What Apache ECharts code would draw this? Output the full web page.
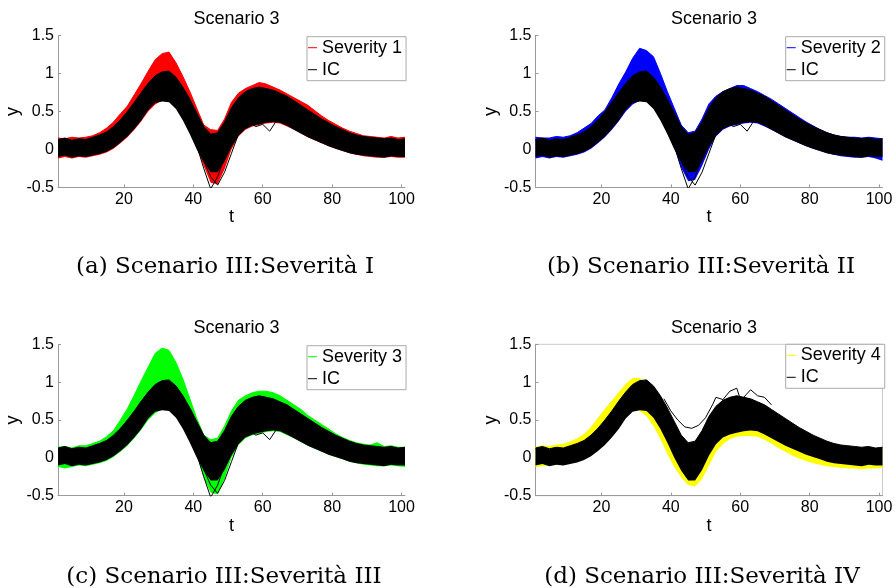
<!DOCTYPE html>
<html><head><meta charset="utf-8">
<script src="https://cdn.jsdelivr.net/npm/echarts@6.0.0/dist/echarts.min.js"></script>
<style>html,body{margin:0;padding:0;background:#fff}#c{width:896px;height:588px}</style>
</head><body><div id="c"></div>
<script>
// time grid (t) of the read-off envelopes
var tGrid = [1,3,5,7,9,11,13,15,17,19,21,23,25,27,29,31,33,35,37,39,41,43,45,47,49,51,53,55,57,59,61,63,65,67,69,71,73,75,77,79,81,83,85,87,89,91,93,95,97,99,101];
// IC bundle envelope (upper / lower)
var icHi = [0.13,0.15,0.12,0.14,0.13,0.16,0.19,0.23,0.30,0.39,0.50,0.62,0.75,0.87,0.97,1.02,1.03,0.95,0.82,0.66,0.48,0.30,0.20,0.22,0.36,0.55,0.68,0.76,0.80,0.82,0.80,0.78,0.74,0.70,0.64,0.58,0.52,0.46,0.40,0.35,0.30,0.26,0.22,0.19,0.17,0.16,0.15,0.14,0.15,0.13,0.14];
var icLo = [-0.10,-0.08,-0.11,-0.09,-0.10,-0.08,-0.06,-0.03,0.02,0.09,0.17,0.27,0.38,0.52,0.61,0.63,0.62,0.53,0.38,0.20,0.00,-0.17,-0.30,-0.30,-0.16,0.03,0.18,0.27,0.31,0.33,0.35,0.36,0.35,0.31,0.26,0.21,0.16,0.12,0.08,0.04,0.01,-0.02,-0.05,-0.07,-0.08,-0.09,-0.10,-0.11,-0.09,-0.10,-0.10];
// Severity 1 (red)
var s1Hi = [0.15,0.14,0.16,0.15,0.16,0.18,0.22,0.28,0.36,0.47,0.57,0.72,0.87,1.03,1.18,1.26,1.28,1.14,0.96,0.76,0.54,0.32,0.26,0.25,0.40,0.62,0.74,0.80,0.84,0.88,0.86,0.82,0.78,0.73,0.68,0.63,0.58,0.51,0.44,0.38,0.33,0.28,0.24,0.21,0.18,0.17,0.16,0.15,0.17,0.15,0.16];
var s1Lo = [-0.12,-0.10,-0.12,-0.10,-0.11,-0.09,-0.07,-0.04,0.01,0.08,0.16,0.26,0.37,0.50,0.59,0.64,0.63,0.55,0.40,0.22,0.02,-0.22,-0.44,-0.46,-0.26,0.00,0.17,0.26,0.30,0.32,0.34,0.35,0.34,0.30,0.26,0.21,0.16,0.12,0.08,0.04,0.01,-0.02,-0.05,-0.07,-0.09,-0.10,-0.11,-0.11,-0.10,-0.11,-0.11];
// Severity 2 (blue)
var s2Hi = [0.16,0.15,0.15,0.17,0.16,0.18,0.22,0.28,0.34,0.44,0.52,0.68,0.86,1.02,1.20,1.33,1.30,1.22,1.00,0.76,0.54,0.32,0.22,0.24,0.40,0.60,0.70,0.76,0.80,0.84,0.84,0.80,0.76,0.71,0.66,0.60,0.54,0.48,0.42,0.36,0.31,0.26,0.22,0.19,0.17,0.16,0.16,0.15,0.16,0.15,0.14];
var s2Lo = [-0.12,-0.10,-0.12,-0.10,-0.11,-0.09,-0.07,-0.04,0.01,0.08,0.16,0.26,0.37,0.50,0.59,0.64,0.63,0.55,0.40,0.22,0.02,-0.24,-0.42,-0.40,-0.22,0.00,0.17,0.26,0.30,0.32,0.34,0.35,0.34,0.30,0.26,0.21,0.16,0.12,0.08,0.04,0.01,-0.02,-0.05,-0.07,-0.09,-0.10,-0.11,-0.11,-0.10,-0.12,-0.15];
// Severity 3 (green)
var s3Hi = [0.14,0.15,0.13,0.16,0.16,0.19,0.22,0.28,0.36,0.50,0.65,0.83,1.02,1.20,1.38,1.45,1.42,1.26,1.04,0.78,0.52,0.30,0.24,0.26,0.42,0.62,0.76,0.82,0.86,0.88,0.88,0.86,0.82,0.76,0.70,0.64,0.56,0.50,0.44,0.38,0.32,0.27,0.23,0.20,0.18,0.17,0.20,0.15,0.16,0.14,0.14];
var s3Lo = [-0.12,-0.14,-0.12,-0.10,-0.11,-0.09,-0.07,-0.04,0.01,0.08,0.16,0.26,0.37,0.50,0.59,0.64,0.63,0.55,0.40,0.22,0.02,-0.26,-0.46,-0.48,-0.28,0.00,0.17,0.26,0.30,0.32,0.34,0.35,0.34,0.30,0.26,0.21,0.16,0.12,0.08,0.04,0.01,-0.02,-0.05,-0.07,-0.09,-0.10,-0.11,-0.11,-0.10,-0.11,-0.12];
// Severity 4 (yellow)
var s4Hi = [0.14,0.16,0.15,0.17,0.18,0.21,0.25,0.31,0.40,0.52,0.64,0.75,0.86,0.97,1.05,1.05,0.98,0.86,0.70,0.52,0.34,0.20,0.12,0.12,0.26,0.44,0.58,0.66,0.72,0.75,0.74,0.70,0.65,0.60,0.54,0.48,0.42,0.36,0.30,0.25,0.20,0.16,0.14,0.12,0.11,0.11,0.10,0.10,0.11,0.10,0.10];
var s4Lo = [-0.12,-0.11,-0.10,-0.09,-0.08,-0.05,-0.02,0.02,0.08,0.15,0.24,0.34,0.45,0.55,0.62,0.62,0.55,0.42,0.25,0.05,-0.12,-0.26,-0.36,-0.38,-0.28,-0.10,0.08,0.18,0.25,0.28,0.29,0.29,0.28,0.24,0.19,0.13,0.08,0.03,-0.01,-0.04,-0.07,-0.09,-0.11,-0.12,-0.13,-0.14,-0.14,-0.15,-0.14,-0.14,-0.13];
// individual IC curves that stand out of the bundle
var icOutA_t = [39,41,43,45,47,49,51,53];
var icOutA_y = [0.30,0.05,-0.25,-0.52,-0.36,-0.10,0.15,0.30];
var icOutB_t = [41,43,45,47,49,51,53,55];
var icOutB_y = [0.10,-0.15,-0.36,-0.47,-0.30,-0.05,0.20,0.32];
var icOutC_t = [50,52,54,56,58,60,62,64,66,68];
var icOutC_y = [0.05,0.14,0.28,0.36,0.30,0.33,0.24,0.38,0.36,0.32];
var icOutD_t = [38,40,42,44,46,48,50,52,53,55,57,59,60,61,63,65,67,69];
var icOutD_y = [0.78,0.62,0.50,0.41,0.39,0.43,0.53,0.70,0.80,0.77,0.88,0.92,0.78,0.80,0.90,0.82,0.80,0.70];
// labels
var panelTitles = ['Scenario 3','Scenario 3','Scenario 3','Scenario 3'];
var captions = ['(a) Scenario III:Severità I','(b) Scenario III:Severità II','(c) Scenario III:Severità III','(d) Scenario III:Severità IV'];
var sevNames = ['Severity 1','Severity 2','Severity 3','Severity 4'];
var xTicks = [20,40,60,80,100];
var tMin = 1, tMax = 101;

var sevColors = ['#ff0000','#0000ff','#00ff00','#ffff00'];
var sevHi = [s1Hi,s2Hi,s3Hi,s4Hi];
var sevLo = [s1Lo,s2Lo,s3Lo,s4Lo];
var grids = [
  {left:58, top:35.4, width:347, height:152},
  {left:535.5, top:35.4, width:347, height:152},
  {left:58, top:344.3, width:347, height:151.4},
  {left:535.5, top:344.3, width:347, height:151.4, show:true, borderColor:'#c8c8c8', borderWidth:1}
];
var captionCenters = [220, 696, 219, 697];
var SANS = 'Liberation Sans, Arial, sans-serif';

// category axis of t from tMin to tMax
var tCats = [];
for (var k = tMin; k <= tMax; k++) tCats.push(String(k));
function isTick(idx, val){ return xTicks.indexOf(Number(val)) >= 0; }

function pairs(ts, ys){ return ts.map(function(t,i){return [String(t), ys[i]];}); }
function band(name, lo, hi, color, gi, key, z){
  return [
    {type:'line', xAxisIndex:gi, yAxisIndex:gi, stack:key, stackStrategy:'all', symbol:'none', silent:true,
     data: pairs(tGrid, lo), lineStyle:{width:0, opacity:0}, z:z},
    {type:'line', name:name, xAxisIndex:gi, yAxisIndex:gi, stack:key, stackStrategy:'all', symbol:'none', silent:true,
     data: tGrid.map(function(t,i){return [String(t), hi[i]-lo[i]];}),
     lineStyle:{width:1, color:color}, itemStyle:{color:color}, areaStyle:{color:color, opacity:1}, z:z}
  ];
}
function outline(ts, ys, gi){
  return {type:'line', xAxisIndex:gi, yAxisIndex:gi, symbol:'none', silent:true, data:pairs(ts,ys),
          lineStyle:{width:1, color:'#000'}, z:5};
}

var xAxes=[], yAxes=[], series=[], titles=[], legends=[];
var legendPos = [[307,36.7],[785.7,36.7],[307,345.7],[785.7,344.3]];
for (var g=0; g<4; g++){
  var gr = grids[g];
  xAxes.push({type:'category', gridIndex:g, data:tCats, boundaryGap:false, name:'t', nameLocation:'middle', nameGap:20,
    nameTextStyle:{fontSize:18, fontFamily:SANS, color:'#000'},
    axisLine:{show:true, onZero:false, lineStyle:{color:'#9a9a9a'}},
    axisTick:{show:true, inside:true, length:3, interval:isTick, lineStyle:{color:'#9a9a9a'}},
    axisLabel:{interval:isTick, margin:4, fontSize:16, fontFamily:SANS, color:'#000'},
    splitLine:{show:false}});
  yAxes.push({type:'value', gridIndex:g, min:-0.5, max:1.5, interval:0.5, name:'y', nameLocation:'middle', nameGap:33, nameRotate:90,
    nameTextStyle:{fontSize:18, fontFamily:SANS, color:'#000'},
    axisLine:{show:true, onZero:false, lineStyle:{color:'#9a9a9a'}},
    axisTick:{show:true, inside:true, length:3, lineStyle:{color:'#9a9a9a'}},
    axisLabel:{margin:4, fontSize:16, fontFamily:SANS, color:'#000'},
    splitLine:{show:false}});
  series = series.concat(band(sevNames[g], sevLo[g], sevHi[g], sevColors[g], g, 'sev'+g, 2));
  series = series.concat(band('IC', icLo, icHi, '#000000', g, 'ic'+g, 3));
  if (g < 3){
    series.push(outline(icOutA_t, icOutA_y, g));
    series.push(outline(icOutB_t, icOutB_y, g));
    series.push(outline(icOutC_t, icOutC_y, g));
  } else {
    series.push(outline(icOutD_t, icOutD_y, g));
  }
  titles.push({text:panelTitles[g], left:gr.left + gr.width/2, top:gr.top - 31, textAlign:'center',
    textStyle:{fontSize:18, fontWeight:'normal', fontFamily:SANS, color:'#000', lineHeight:20}});
  titles.push({text:captions[g], left:captionCenters[g], top:(g<2 ? 248 : 558), textAlign:'center',
    textStyle:{fontSize:23, fontWeight:'normal', fontFamily:'DejaVu Serif, serif', color:'#000', lineHeight:28}});
  legends.push({left:legendPos[g][0], top:legendPos[g][1], orient:'vertical', selectedMode:false,
    data:[{name:sevNames[g], itemStyle:{color:sevColors[g]}}, {name:'IC', itemStyle:{color:'#000'}}],
    icon:'rect', itemWidth:9, itemHeight:1, itemGap:2, padding:[1,4,1,1],
    borderColor:'#aaaaaa', borderWidth:1, backgroundColor:'#fff',
    textStyle:{fontSize:18, fontFamily:SANS, color:'#000', lineHeight:20}});
}

var chart = echarts.init(document.getElementById('c'), null, {renderer:'canvas'});
chart.setOption({
  animation:false,
  backgroundColor:'#fff',
  title:titles,
  legend:legends,
  grid:grids,
  xAxis:xAxes,
  yAxis:yAxes,
  series:series
});
</script>
</body></html>
